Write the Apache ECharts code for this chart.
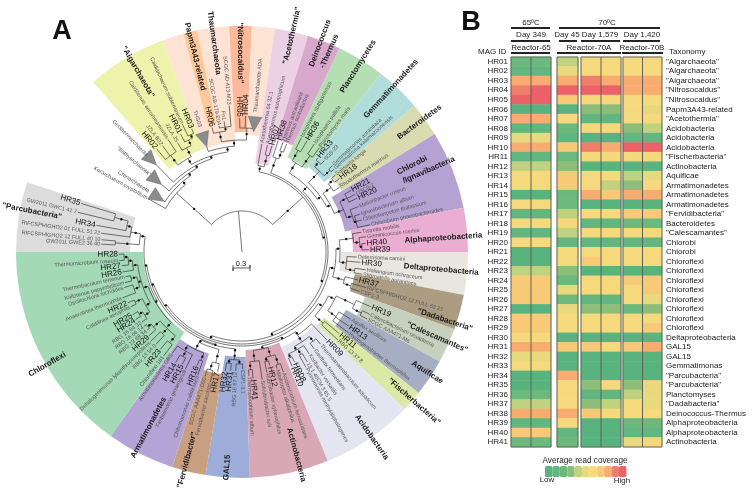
<!DOCTYPE html>
<html><head><meta charset="utf-8">
<style>html,body{margin:0;padding:0;background:#fff}#c{width:752px;height:494px}</style>
<script src="https://cdn.jsdelivr.net/npm/echarts@6/dist/echarts.min.js"></script>
</head><body><div id="c"></div>
<script>
// ---------- Panel B data ----------
const magIds = [];
for (let i = 1; i <= 41; i++) magIds.push('HR' + String(i).padStart(2, '0'));
const taxonomy = ['"Aigarchaeota"','"Aigarchaeota"','"Aigarchaeota"','"Nitrosocaldus"','"Nitrosocaldus"','Papm3A43-related','"Acetothermia"','Acidobacteria','Acidobacteria','Acidobacteria','"Fischerbacteria"','Actinobacteria','Aquificae','Armatimonadetes','Armatimonadetes','Armatimonadetes','"Fervidibacteria"','Bacteroidetes','"Calescamantes"','Chlorobi','Chlorobi','Chloroflexi','Chloroflexi','Chloroflexi','Chloroflexi','Chloroflexi','Chloroflexi','Chloroflexi','Chloroflexi','Deltaproteobacteria','GAL15','GAL15','Gemmatimonas','"Parcubacteria"','"Parcubacteria"','Planctomyses','"Dadabacteria"','Deinococcus-Thermus','Alphaproteobacteria','Alphaproteobacteria','Actinobacteria'];
const reactor65 = [[2,2],[1,1],[8,8],[9,10],[10,10],[0,0],[8,8],[1,1],[5,5],[8,8],[1,1],[4,4],[6,6],[6,6],[0,0],[6,6],[1,1],[6,6],[1,1],[6,6],[0,0],[0,0],[4,4],[7,7],[7,7],[7,7],[0,0],[7,7],[7,7],[6,6],[8,8],[5,5],[6,6],[0,0],[0,0],[2,2],[4,4],[8,8],[1,1],[7,7],[2,2]];
const reactor70Day45 = [4,5,8,10,7,0,6,2,1,7,2,3,7,7,2,2,4,6,4,1,6,6,3,2,5,2,5,6,6,0,7,0,0,8,6,6,6,8,6,1,2];
const reactor70A = [[6,6],[6,6],[9,8],[10,10],[6,6],[3,3],[1,1],[6,6],[0,0],[9,8],[6,6],[0,0],[6,6],[6,4],[8,7],[0,0],[6,6],[1,1],[6,6],[1,1],[6,6],[7,6],[0,0],[6,6],[6,6],[1,1],[3,3],[6,6],[6,6],[0,0],[7,6],[0,0],[0,0],[0,0],[3,6],[1,1],[3,4],[7,6],[0,0],[0,0],[0,0]];
const reactor70B = [[6,6],[6,6],[8,8],[8,8],[6,6],[6,5],[6,6],[3,4],[1,1],[10,10],[6,6],[0,0],[4,5],[3,6],[8,8],[0,0],[7,7],[2,2],[6,6],[1,1],[6,6],[6,6],[0,0],[7,7],[6,7],[6,5],[2,3],[6,6],[6,7],[0,0],[7,8],[0,0],[0,0],[0,0],[3,5],[4,5],[6,5],[6,6],[2,2],[1,1],[5,6]];
const coverageColors = ['#59b37e','#62b680','#6cb97e','#8cbe79','#c0d27f','#e8d97e','#f5d97c','#f8ca78','#f8ac6f','#f07e6a','#ee6169'];

// ---------- Panel A data: compass degrees and radius around the tree centre ----------
const cladeFrom  = [-41.2,-20.6,-3.3,2.5,8.4,17,25.6,37.9,49.7,58.5,78.7,90,101,110,119,128.6,134,157.7,178,189.3,198,215.5,270];
const cladeTo    = [-20.6,-3.3,2.5,8.4,17,25.6,37.9,49.7,58.5,78.7,90,101,110,119,128.6,134,157.7,178,189.3,198,215.5,270,288];
const cladeInner = [110,110,120,117,90,118,105,108,117,105,111,99,115,131,119,105,103,98,105,124,107,99,112];
const cladeColors = ['#eef3ab','#fde3d4','#fdb999','#fde3d4','#ecd0e5','#d7a7cc','#b5dfb3','#b1dcdc','#d9dbb0','#b6a1d3','#e9aed2','#e9e6df','#ab9c82','#c6d0bc','#a6aec4','#dbe8a6','#e4e5f1','#d9a8b7','#9dacd9','#c99f81','#b3a4d6','#a3d9b6','#dcdcdc'];
const stripe = [-15, -11.5, 130, 226];
const stripeColor = '#fdc99a';
const cladeLabels = [
 ['"Aigarchaeota"',-30,208],['Papm3A43-related',-13.5,201],['Thaumarchaeota',-7.6,211],['"Nitrosocaldus"',-0.5,199],
 ['"Acetothermia"',13,222],['Deinococcus',20.5,223],['-Thermus',23.5,219],['Planctomycetes',32,219],['Gemmatimonadetes',42.4,221],
 ['Bacteroidetes',53.8,220],['Chlorobi',63,191],['/Ignavibacteria',66.3,204],['Alphaproteobacteria',86,202],['Deltaproteobacteria',95,200],
 ['"Dadabacteria"',108.5,214],['"Calescamantes"',113.6,213],['Aquificae',123,221],['"Fischerbacteria"',131,228],['Acidobacteria',145,226],
 ['Actinobacteria',165,210],['GAL15',184,216],['"Fervidibacter"',194.8,215],['Armatimonadetes',208,199],['Chloroflexi',240,225],['"Parcubacteria"',281,214]
];
// tips: label, angle, radius where the label begins, radius of a collapsed-clade triangle
const tips = [
 ['Korarchaeum cryptofilum',-60.4,109],['Crenarchaeota',-57,111,102],['"Bathyarchaeota"',-50,120,114],['Geothermarchaeota',-44.5,135,131],
 ['HR02',-39.6,135],['JZLA B22',-36.8,134],['Calditenuis aerorheumensis',-33.3,136],['JZLA JS',-30.5,128],['HR01',-27.5,134],['Caldiarchaeum subterraneum',-25,142],['HR03',-22.2,134],
 ['THS03',-18.5,132,120],['HR06',-13.5,129],['SCGC AB-179-E04',-10.3,129],['Fn1',-7.8,133],['SCGC AD-413-M23',-5,148],['HR05',-1,135],['HR04',1.5,137],['Thaumarchaeote ADA',5.5,140,130],
 ['Acetothermia 64 32.1',10.4,111],['Acetothermus autotrophicum',13.4,111],['HR07',15.7,111],['HR38',18,118],['Thermus antranikianii',20.5,118],['Thermus scotoductus',22.5,118],
 ['Isosphaera stuttgartensis',27.5,130],['HR36',30.3,130],['Isosphaera pallida',33.8,131],['Planctomyces maris',36.6,131],
 ['HR33',38.9,122],['SG8-23',42,124],['Gemmatimonas aurantiaca',46.3,126],['Gemmatirosa kalamazoonensis',48,125],
 ['Salisaeta longa',50.5,122],['HR18',53,123],['Rhodothermus marinus',56.4,118],
 ['HR21',60.6,126],['OSCII-2',63,128],['HR20',65,128],['Melioribacter roseus',68.7,126],['Ignavibacterium album',72.2,125],['Chloroherpeton thalassium',75,125],['Chlorobium phaeobacteroides',78,132],
 ['Tistrella mobilis',80.6,122],['Geminicoccus roseus',83,126],['HR40',86,125],['HR39',89,128],
 ['Deferrisoma camini',92.5,116],['HR30',95,120],['Haliangium ochraceum',98.2,126],['Stigmatella aurantiaca',100.5,123],
 ['HR37',103.5,120],['RIFCSPHIGHO2 12 FULL 53 21',106,130],['CSP1-3',108.5,125],
 ['HR19',113,141],['Calescibacterium nevadense',116,143],['SCGC AAA471-M6',118.2,143],
 ['Aquifex aeolicus',121.7,129],['HR13',124.8,131],['Hydrogenobacter thermophilus',127.2,135],
 ['HR11',130,128],['RBG 13 37 8',132.5,131],
 ['HR09',136,123],['Thermoanaerobaculum aquaticum',139.6,122],['Geothrix fermentans',143.3,122],['Koribacter versatilis',146.6,123],['13 1 40CM 3 65 5',149.3,129],['Pyrinomonas methylaliphatogenes',151,133],['HR08',154.5,123],['HR10',156.3,126],
 ['Acidimicrobium ferrooxidans',161,128],['Nitriliruptor alkaliphilus',163.3,123],['HR12',166.3,118],['Rubrobacter xylanophilus',168.3,124],['Solirubrobacter soli',171,130],['HR41',175,128],['Thermoleophilum album',176.8,125],
 ['CSP1-3.1',179.7,118],['RBG 16 67 12',183,120],['HR31',185.5,120],['HR32',188,121],
 ['HR17',191.5,123],['Fervidibacter sacchari',193.7,135],['SCGC AAA471-D00',196.5,131],
 ['Chthonomonas calidirosea',199.8,132],['HR16',201.6,123],['Fimbriimonas ginsengisoli',205.8,131],['HR15',208,128],['HR14',211,130],['Armatimonadetes GBS',214.5,124],
 ['Chloroflexi 181',217,131],['HR23',220,128],['RBG 13 54 8',223,127],['Dehalogenimonas lykanthroporepellens',225.6,129],['HR29',228,126],['RBG 19 68 34',230.5,124],['RBG 16 66 14',232.8,124],
 ['RBG 16 64 32',235,123],['HR24',237.6,127],['HR25',240.2,127],['Caldilinea aerophila',243.8,125],['HR22',246,126],['Anaerolinea thermophila',249,129],['Oscillochloris trichoides',253.2,124],
 ['Kallotenue papyrolyticum',255.3,122],['Thermobaculum terrenum',258,120],['HR26',260.5,122],['HR27',263.5,122],['Thermomicrobium roseum',266,124],['HR28',269,124],
 ['GW2011 GWE2 36 40',273.2,142],['RIFCSPHIGHO2 12 FULL 40 10',275,142],['RIFCSPHIGHO2 01 FULL 51 22',277.6,143],['HR34',280.4,149],['GW2011 GWC1 41 7',283.6,170],['HR35',286.8,169]
];
// tree: [radius, fixed angle or null, ...children]; a string child is a tip
const archaea = [88,-48,'Korarchaeum cryptofilum',[92,-40,'Crenarchaeota',[95,-34,'"Bathyarchaeota"',[98,-28,'Geothermarchaeota',[101,-18,
  [108,-30,[120,null,'HR02','JZLA B22','Calditenuis aerorheumensis'],[118,null,'JZLA JS',[124,null,'HR01',[128,null,'Caldiarchaeum subterraneum','HR03']]]],
  [106,-8,'THS03',[112,null,[122,null,'HR06',[126,null,'SCGC AB-179-E04','Fn1','SCGC AD-413-M23']],[124,null,'HR05','HR04','Thaumarchaeote ADA']]]]]]]];
const planGroup = [92,45,[104,31,[116,null,'Isosphaera stuttgartensis','HR36'],[118,null,'Isosphaera pallida','Planctomyces maris']],
  [96,55,[112,null,[118,null,'HR33','SG8-23'],[120,null,'Gemmatimonas aurantiaca','Gemmatirosa kalamazoonensis']],
   [100,62,[110,null,[116,null,'Salisaeta longa','HR18'],'Rhodothermus marinus'],
    [110,null,[118,null,'HR21','OSCII-2','HR20'],[116,null,'Melioribacter roseus',[118,null,'Ignavibacterium album','Chloroherpeton thalassium','Chlorobium phaeobacteroides']]]]]];
const alphaDada = [94,100,[98,88,[112,null,'Tistrella mobilis',[118,null,'Geminicoccus roseus',[120,null,'HR40','HR39']]],[105,null,'Deferrisoma camini','HR30',[114,null,'Haliangium ochraceum','Stigmatella aurantiaca']]],
  [106,null,'HR37',[114,null,'RIFCSPHIGHO2 12 FULL 53 21','CSP1-3']]];
const calesGroup = [97,124,[104,117,[124,null,'HR19',[134,null,'Calescibacterium nevadense','SCGC AAA471-M6']],[114,null,'Aquifex aeolicus','HR13','Hydrogenobacter thermophilus']],[108,null,'HR11','RBG 13 37 8']];
const acidoActino = [96,155,[100,146,'HR09',[108,null,[114,null,'Thermoanaerobaculum aquaticum','Geothrix fermentans'],[112,null,'Koribacter versatilis',[118,null,'13 1 40CM 3 65 5','Pyrinomonas methylaliphatogenes'],[116,null,'HR08','HR10']]]],
  [99,168,[108,null,[118,null,'Acidimicrobium ferrooxidans','Nitriliruptor alkaliphilus'],[112,null,'HR12','Rubrobacter xylanophilus']],[110,null,'Solirubrobacter soli',[118,null,'HR41','Thermoleophilum album']]]];
const lowerGroup = [97,196,[100,184,[108,null,[112,null,'CSP1-3.1','RBG 16 67 12'],[112,null,'HR31','HR32']]],
  [100,205,[114,null,'HR17',[122,null,'Fervidibacter sacchari','SCGC AAA471-D00']],[108,null,[116,null,'Chthonomonas calidirosea','HR16'],[114,null,'Fimbriimonas ginsengisoli',[120,null,'HR15','HR14'],'Armatimonadetes GBS']]]];
const chloroflexi = [100,240,[107,225,[116,null,'Chloroflexi 181','HR23'],[114,null,'RBG 13 54 8','Dehalogenimonas lykanthroporepellens'],[116,null,'HR29',[120,null,'RBG 19 68 34','RBG 16 66 14']]],
  [105,250,[110,null,[116,null,'RBG 16 64 32',[120,null,'HR24','HR25']],[118,null,'Caldilinea aerophila','HR22']],
   [108,null,[114,null,'Anaerolinea thermophila','Oscillochloris trichoides'],[114,null,'Kallotenue papyrolyticum','Thermobaculum terrenum']],
   [110,null,'HR26',[114,null,'HR27',[118,null,'Thermomicrobium roseum','HR28']]]]];
const parcu = [103,279,[113,null,[118,null,[132,null,'HR35','GW2011 GWC1 41 7'],'HR34'],'RIFCSPHIGHO2 01 FULL 51 22'],[127,null,'RIFCSPHIGHO2 12 FULL 40 10','GW2011 GWE2 36 40']];
const aceto = [88,12,'Acetothermia 64 32.1',[100,null,'Acetothermus autotrophicum','HR07']];
const deino = [100,20,'HR38',[108,null,'Thermus antranikianii','Thermus scotoductus']];
const bacteria = [82,48,aceto,[84,80,deino,[86,110,planGroup,[89,160,alphaDada,[92,200,calesGroup,[94,235,acidoActino,[96,250,lowerGroup,[98,262,chloroflexi,parcu]]]]]]]];
const treeRoot = [41,-5,archaea,bacteria];

// ---------- derive branch segments from the tree ----------
const tipByName = {}; tips.forEach(t => tipByName[t[0]] = t);
function angleOf(n){
  if (typeof n === 'string') return tipByName[n][1];
  if (n[1] !== null) return n[1];
  const as = n.slice(2).map(angleOf);
  return (Math.min(...as) + Math.max(...as)) / 2;
}
const segments = [], dots = [];
function walk(n, parentR){
  const a = angleOf(n);
  if (typeof n === 'string'){
    const t = tipByName[n];
    const end = t[3] ? t[3] - 9 : t[2] - 1;
    segments.push([parentR, a, end, a]);
    return;
  }
  segments.push([parentR, a, n[0], a]);
  if (parentR > 0) dots.push([(parentR + n[0]) / 2, a]);
  const kids = n.slice(2), as = kids.map(angleOf);
  as.push(a);
  segments.push([n[0], Math.min(...as), n[0], Math.max(...as)]);
  kids.forEach(k => walk(k, n[0]));
}
walk(treeRoot, 0);

// ---------- drawing helpers ----------
const FONT = '"Liberation Sans", Arial, sans-serif';
const D = Math.PI / 180;
function rotFor(a){ const c = ((a % 360) + 360) % 360; return c < 180 ? (90 - c) * D : (270 - c) * D; }
function alignFor(a){ const c = ((a % 360) + 360) % 360; return c < 180 ? 'left' : 'right'; }
function heat(rows){ const out = []; rows.forEach((r,y)=>{ (Array.isArray(r)?r:[r]).forEach((v,x)=>out.push([x,y,v])); }); return out; }
const polarBase = {type:'custom',coordinateSystem:'polar',polarIndex:0,silent:true,animation:false,clip:false};
const gridTop = 57, gridH = 390;
const blocks = [[511,40,reactor65,2],[557,21,reactor70Day45,1],[581,40,reactor70A,2],[623,39,reactor70B,2]];
const txt = (t,x,y,size,align,extra) => ({type:'text',z:20,x,y,style:Object.assign({text:t,fill:'#222',font:`${size}px ${FONT}`,align:align||'center',verticalAlign:'middle'},extra||{})});
const bar = (x1,x2,y) => ({type:'rect',z:20,shape:{x:x1,y:y,width:x2-x1,height:2},style:{fill:'#222'}});
const graphics = [
 txt('A',62,32,27,'center',{font:`bold 27px ${FONT}`,fill:'#111'}), txt('B',471,23,27,'center',{font:`bold 27px ${FONT}`,fill:'#111'}),
 txt('65ºC',531,23,8), txt('70ºC',607,23,8), bar(511,550,27), bar(559,660,27),
 txt('Day 349',531,35,8), txt('Day 45',567,35,8), txt('Day 1,579',600,35,8), txt('Day 1,420',642,35,8),
 bar(511,550,40), bar(559,577,40), bar(581,620,40), bar(623,660,40),
 txt('Reactor-65',531,48,8), txt('Reactor-70A',589,48,8), txt('Reactor-70B',642,48,8),
 bar(511,550,52), bar(557,621,52), bar(622,663,52),
 txt('MAG ID',478,52,8,'left'), txt('Taxonomy',669,52,8,'left'),
 txt('Average read coverage',585,461,8.2), txt('Low',547,480,8), txt('High',622,481,8),
 txt('0.3',241,264,7.5),
 {type:'polyline',z:20,shape:{points:[[233,265],[233,271],[233,268],[250,268],[250,265],[250,271]]},style:{stroke:'#333',lineWidth:0.8,fill:null}}
];
blocks.forEach(b=>{
  graphics.push({type:'rect',z:20,shape:{x:b[0],y:gridTop,width:b[1],height:gridH},style:{fill:'none',stroke:'#5e6258',lineWidth:1}});
  if(b[3]===2) graphics.push({type:'line',z:20,shape:{x1:b[0]+b[1]/2,y1:gridTop,x2:b[0]+b[1]/2,y2:gridTop+gridH},style:{stroke:'#5e6258',lineWidth:1}});
});

const hideAxis = {axisLine:{show:false},axisTick:{show:false},splitLine:{show:false}};
const chart = echarts.init(document.getElementById('c'),null,{renderer:'canvas'});
chart.setOption({
  animation:false,
  backgroundColor:'#fff',
  textStyle:{fontFamily:FONT},
  polar:{center:[242,252],radius:[0,226]},
  radiusAxis:{type:'value',min:0,max:226,show:false},
  angleAxis:{type:'value',min:-62,max:298,startAngle:152,clockwise:true,show:false},
  grid:blocks.map(b=>({left:b[0],top:gridTop,width:b[1],height:gridH})),
  xAxis:blocks.map((b,i)=>({type:'category',gridIndex:i,data:b[3]===2?['a','b']:['a'],show:false})),
  yAxis:blocks.map((b,i)=>Object.assign({type:'category',gridIndex:i,inverse:true,data:i===3?taxonomy:magIds,position:i===3?'right':'left',
    axisLabel:{show:i===0||i===3,interval:0,fontSize:8,margin:i===0?3:4,color:'#222',fontFamily:FONT}},hideAxis)),
  visualMap:{type:'piecewise',seriesIndex:[0,1,2,3],dimension:2,orient:'horizontal',left:530,top:451,itemWidth:7.4,itemHeight:11,itemGap:0,showLabel:false,selectedMode:false,
    pieces:coverageColors.map((c,i)=>({value:i,color:c}))},
  graphic:{elements:graphics},
  series:[
    ...blocks.map((b,i)=>({type:'heatmap',xAxisIndex:i,yAxisIndex:i,data:heat(b[2]),silent:true,progressive:0,emphasis:{disabled:true},itemStyle:{borderWidth:0}})),
    Object.assign({},polarBase,{z:3,data:cladeFrom.map((a,i)=>[cladeInner[i],a]),
      renderItem(p,api){
        const i=p.dataIndex,cs=p.coordSys,pt=api.coord([cladeInner[i],cladeFrom[i]]);
        const r0=Math.hypot(pt[0]-cs.cx,pt[1]-cs.cy),q=api.coord([226,cladeFrom[i]]),r=Math.hypot(q[0]-cs.cx,q[1]-cs.cy);
        return {type:'sector',shape:{cx:cs.cx,cy:cs.cy,r0,r,startAngle:(cladeFrom[i]-90)*D,endAngle:(cladeTo[i]-90)*D,clockwise:true},style:{fill:cladeColors[i]}};
      }}),
    Object.assign({},polarBase,{z:4,data:[[stripe[2],stripe[0]]],
      renderItem(p,api){
        const cs=p.coordSys,a=api.coord([stripe[2],stripe[0]]),b=api.coord([stripe[3],stripe[0]]);
        return {type:'sector',shape:{cx:cs.cx,cy:cs.cy,r0:Math.hypot(a[0]-cs.cx,a[1]-cs.cy),r:Math.hypot(b[0]-cs.cx,b[1]-cs.cy),startAngle:(stripe[0]-90)*D,endAngle:(stripe[1]-90)*D,clockwise:true},style:{fill:stripeColor}};
      }}),
    Object.assign({},polarBase,{z:5,data:segments.map(s=>[s[0],s[1]]),
      renderItem(p,api){
        const s=segments[p.dataIndex],pts=[];
        if(s[1]===s[3]){pts.push(api.coord([s[0],s[1]]),api.coord([s[2],s[3]]));}
        else{for(let a=s[1];a<s[3];a+=1.5)pts.push(api.coord([s[0],a]));pts.push(api.coord([s[0],s[3]]));}
        return {type:'polyline',shape:{points:pts},style:{stroke:'#2b2b2b',lineWidth:0.65,fill:null}};
      }}),
    Object.assign({},polarBase,{z:6,data:tips.filter(t=>t[3]).map(t=>[t[3],t[1]]),
      renderItem(p,api){
        const t=tips.filter(t=>t[3])[p.dataIndex],r=t[3],w=6.5/r/D;
        return {type:'polygon',shape:{points:[api.coord([r-9,t[1]]),api.coord([r+6,t[1]-w]),api.coord([r+6,t[1]+w])]},style:{fill:'#8b8b8b',stroke:'#666',lineWidth:0.5}};
      }}),
    Object.assign({},polarBase,{z:7,data:dots,
      renderItem(p,api){
        const c=api.coord([api.value(0),api.value(1)]);
        return {type:'circle',shape:{cx:c[0],cy:c[1],r:1.2},style:{fill:'#111'}};
      }}),
    Object.assign({},polarBase,{z:8,data:tips.map(t=>[t[2],t[1]]),
      renderItem(p,api){
        const t=tips[p.dataIndex],c=api.coord([t[2],t[1]]),hr=/^HR\d/.test(t[0]);
        return {type:'text',x:c[0],y:c[1],rotation:rotFor(t[1]),style:{text:t[0],align:alignFor(t[1]),verticalAlign:'middle',fill:hr?'#111':'#555',font:(hr?'8px ':'5.5px ')+FONT}};
      }}),
    Object.assign({},polarBase,{z:9,data:cladeLabels.map(t=>[t[2],t[1]]),
      renderItem(p,api){
        const t=cladeLabels[p.dataIndex],c=api.coord([t[2],t[1]]);
        return {type:'text',x:c[0],y:c[1],rotation:rotFor(t[1]),style:{text:t[0],align:'center',verticalAlign:'middle',fill:'#1a1a1a',font:'bold 8px '+FONT}};
      }})
  ]
});
</script></body></html>
